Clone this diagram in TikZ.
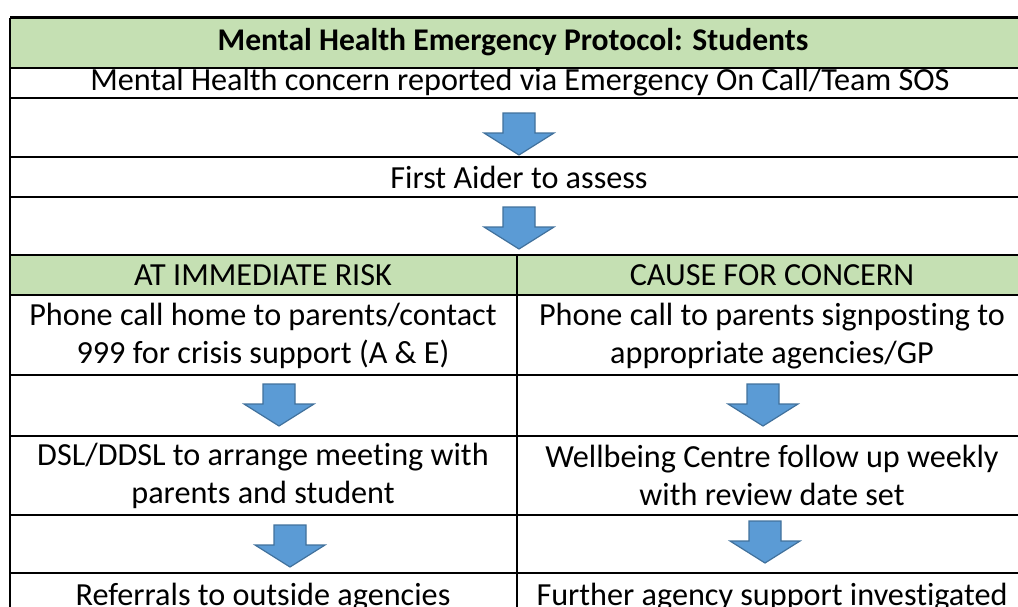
\documentclass[tikz,border=0pt]{standalone}
\usepackage{fontspec}
\setmainfont[Ligatures=CommonOff]{Carlito}
\usepackage{xcolor}
\usepackage{tikz}
\definecolor{msgreen}{RGB}{197, 224, 179}
\definecolor{msblue}{RGB}{91, 155, 213}
\definecolor{msblueedge}{RGB}{65, 113, 156}
\tikzset{
  cell/.style={anchor=base, align=center, inner sep=0pt, font=\fontsize{16.1}{19}\selectfont},
  rule/.style={line width=1.2pt},
  flowarrow/.style={fill=msblue, draw=msblueedge, line width=0.6pt, line join=miter}
}

\begin{document}
\begin{tikzpicture}[x=0.5pt, y=-0.5pt]
\useasboundingbox (0,0) rectangle (1018,606);
\clip (0,0) rectangle (1018,606);

% Green header bands
\fill[msgreen] (10,17.5) rectangle (1028,68);
\fill[msgreen] (10,255) rectangle (1028,295);

% Table rules
\foreach \ry in {17.5,68,98,157,197,255,295,375,436,515,573} {
    \draw[rule] (10,\ry) -- (1028,\ry);
}
\draw[rule] (10,17.5) -- (10,620);
\draw[rule] (1028,17.5) -- (1028,620);
\draw[rule] (517,255) -- (517,620);

% Full width rows
\node[cell, font=\fontsize{15.8}{19}\selectfont\bfseries] (title) at (513,50) {Mental Health Emergency Protocol: Students};
\node[cell] (concern) at (520,90) {Mental Health concern reported via Emergency On Call/Team SOS};
\node[cell] (aider) at (519,188) {First Aider to assess};

% At immediate risk (base = last line)
\node[cell] (riskhead) at (263,285) {AT IMMEDIATE RISK};
\node[cell] (riskcall) at (263,363) {Phone call home to parents/contact\\999 for crisis support (A \& E)};
\node[cell] (riskmeet) at (263,503) {DSL/DDSL to arrange meeting with\\parents and student};
\node[cell] (riskrefer) at (263,605) {Referrals to outside agencies};

% Cause for concern
\node[cell] (concernhead) at (772,285) {CAUSE FOR CONCERN};
\node[cell] (concerncall) at (772,363) {Phone call to parents signposting to\\appropriate agencies/GP};
\node[cell] (concernweekly) at (772,505) {Wellbeing Centre follow up weekly\\with review date set};
\node[cell] (concernfurther) at (772,605) {Further agency support investigated};

% Block arrows
\foreach \ax/\ay in {519/113, 519/207, 279/384, 290/525, 763/384, 765/521} {
    \draw[flowarrow] (\ax-16,\ay) -- (\ax+16,\ay) -- (\ax+16,\ay+20) -- (\ax+35,\ay+20)
        -- (\ax,\ay+42) -- (\ax-35,\ay+20) -- (\ax-16,\ay+20) -- cycle;
}
\end{tikzpicture}
\end{document}
